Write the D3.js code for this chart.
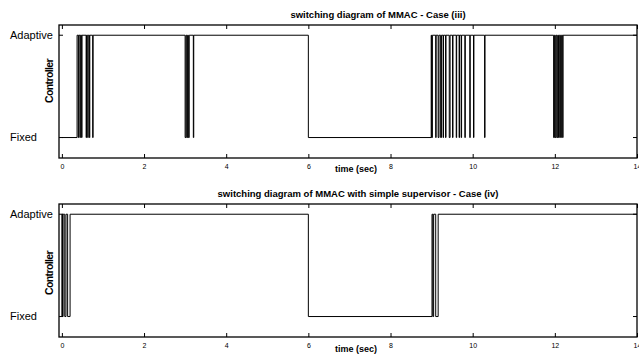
<!DOCTYPE html>
<html>
<head>
<meta charset="utf-8">
<script src="https://cdn.jsdelivr.net/npm/d3@7"></script>
<style>
  body { margin: 0; background: #fff; }
  svg { display: block; font-family: "Liberation Sans", Arial, sans-serif; }
</style>
</head>
<body>
<svg id="chart" width="639" height="358"></svg>
<script>
// tick labels
const xTicks = [0, 2, 4, 6, 8, 10, 12, 14];
const levelNames = ["Fixed", "Adaptive"];

// Case (iii): switching instants (sec), starts on Fixed
const caseIIIStart = 0;
const caseIIISwitches = [
  0.37, 0.40, 0.41, 0.44, 0.45, 0.48, 0.49, 0.59, 0.60, 0.63, 0.64, 0.67, 0.68, 0.75, 0.76,
  3.00, 3.02, 3.04, 3.06, 3.08, 3.10, 3.20, 3.21,
  6.00,
  8.99, 9.00, 9.02, 9.10, 9.11, 9.16, 9.18, 9.22, 9.24, 9.28, 9.29, 9.34, 9.35,
  9.43, 9.45, 9.51, 9.52, 9.60, 9.61, 9.67, 9.68, 9.72, 9.73, 9.81, 9.82,
  9.93, 9.94, 10.02, 10.03, 10.29, 10.30,
  11.97, 11.99, 12.01, 12.03, 12.05, 12.07, 12.09, 12.11, 12.14, 12.16, 12.19, 12.20
];

// Case (iv): switching instants (sec), starts on Fixed
const caseIVStart = 0;
const caseIVSwitches = [
  0.00, 0.015, 0.03, 0.07, 0.10, 0.14, 0.20,
  6.00,
  9.01, 9.03, 9.05, 9.10, 9.16
];

const panels = [
  { title: "switching diagram of MMAC - Case (iii)", titleX: 378, titleY: 18,
    top: 25, bottom: 158, start: caseIIIStart, switches: caseIIISwitches,
    ylabelY: 81, xlabelY: 172 },
  { title: "switching diagram of MMAC with simple supervisor - Case (iv)", titleX: 358, titleY: 197,
    top: 204, bottom: 337, start: caseIVStart, switches: caseIVSwitches,
    ylabelY: 273, xlabelY: 352 }
];

const svg = d3.select("#chart");
const x = d3.scaleLinear().domain([-0.07, 14]).range([59, 637]);

function stepPoints(start, switches) {
  let s = start;
  const pts = [[0, s]];
  switches.forEach(t => { s = 1 - s; pts.push([t, s]); });
  pts.push([14, s]);
  return pts;
}

panels.forEach(p => {
  const y = d3.scaleLinear().domain([-0.2, 1.1]).range([p.bottom, p.top]);
  const g = svg.append("g");

  // signal
  const line = d3.line()
    .x(d => x(d[0]))
    .y(d => y(d[1]))
    .curve(d3.curveStepAfter);
  g.append("path")
    .datum(stepPoints(p.start, p.switches))
    .attr("fill", "none")
    .attr("stroke", "#000")
    .attr("stroke-width", 1)
    .attr("d", line);

  // axes box
  g.append("rect")
    .attr("x", 59).attr("y", p.top)
    .attr("width", 637 - 59).attr("height", p.bottom - p.top)
    .attr("fill", "none").attr("stroke", "#000").attr("stroke-width", 1.3);

  // x axis (ticks inward), top mirror
  const xb = g.append("g")
    .attr("transform", `translate(0,${p.bottom})`)
    .call(d3.axisBottom(x).tickValues(xTicks).tickSizeInner(-4).tickSizeOuter(0).tickPadding(6));
  xb.select(".domain").remove();
  xb.selectAll("text").style("font-size", "7px").attr("fill", "#000");
  const xt = g.append("g")
    .attr("transform", `translate(0,${p.top})`)
    .call(d3.axisTop(x).tickValues(xTicks).tickSizeInner(-4).tickSizeOuter(0).tickFormat(""));
  xt.select(".domain").remove();

  // y ticks both sides
  [0, 1].forEach(v => {
    g.append("line").attr("x1", 59).attr("x2", 63)
      .attr("y1", y(v)).attr("y2", y(v)).attr("stroke", "#000");
    g.append("line").attr("x1", 633).attr("x2", 637)
      .attr("y1", y(v)).attr("y2", y(v)).attr("stroke", "#000");
    g.append("text")
      .attr("x", 10).attr("y", y(v)).attr("dy", "0.35em")
      .style("font-size", "11px")
      .text(levelNames[v]);
  });

  // labels
  g.append("text")
    .attr("x", p.titleX).attr("y", p.titleY)
    .attr("text-anchor", "middle")
    .style("font-size", "9.5px").style("font-weight", "bold")
    .text(p.title);
  g.append("text")
    .attr("x", 356).attr("y", p.xlabelY)
    .attr("text-anchor", "middle")
    .style("font-size", "9px").style("font-weight", "bold")
    .text("time (sec)");
  g.append("text")
    .attr("transform", `translate(53,${p.ylabelY}) rotate(-90)`)
    .attr("text-anchor", "middle")
    .style("font-size", "10.5px").style("font-weight", "bold")
    .style("letter-spacing", "-0.6px")
    .text("Controller");
});
</script>
</body>
</html>
